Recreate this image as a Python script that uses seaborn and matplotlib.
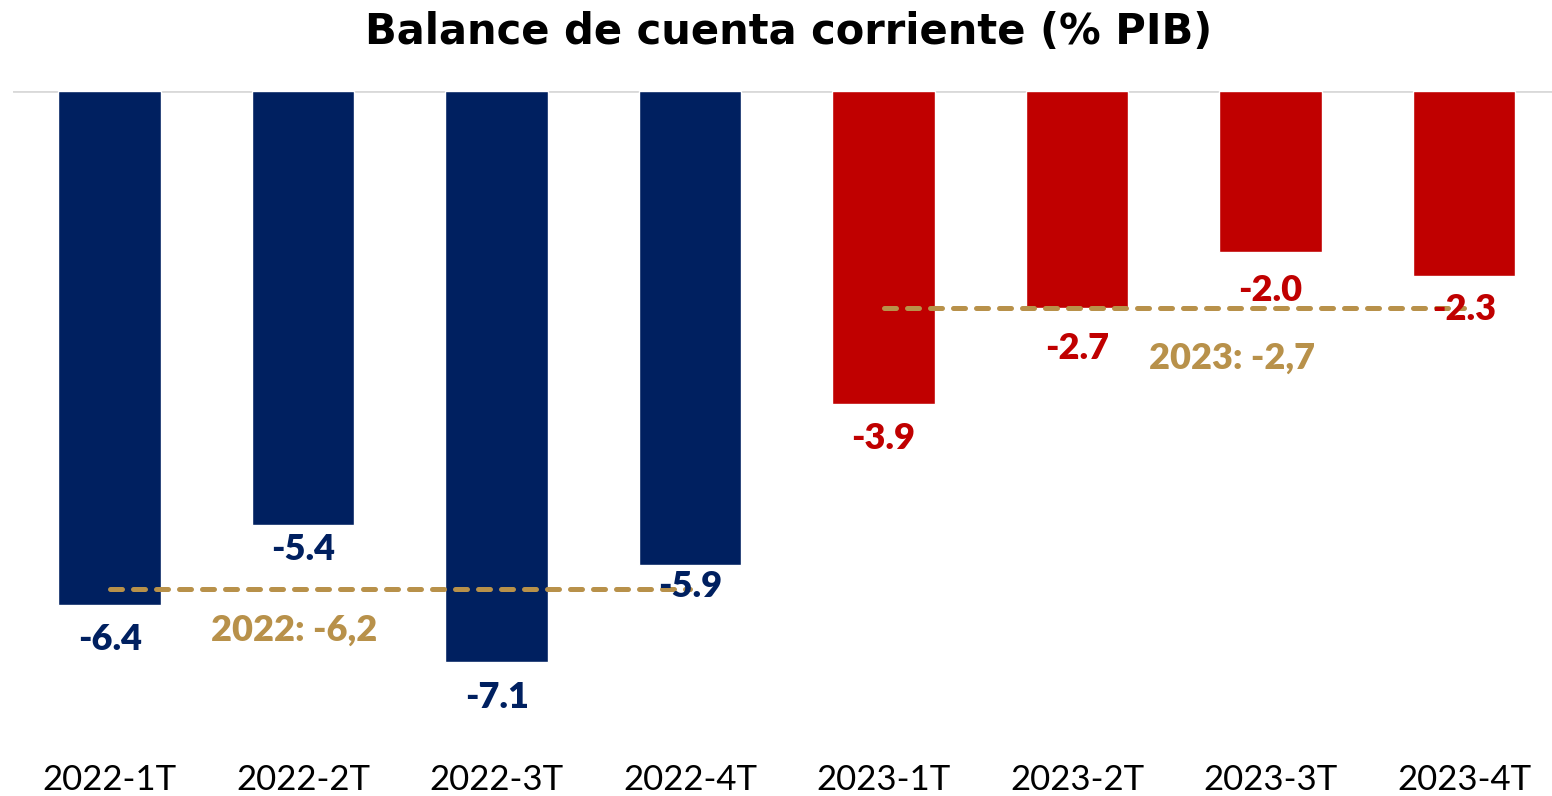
import matplotlib
matplotlib.use("Agg")
import matplotlib.pyplot as plt
import seaborn as sns
import pandas as pd

quarters = ["2022-1T", "2022-2T", "2022-3T", "2022-4T",
            "2023-1T", "2023-2T", "2023-3T", "2023-4T"]
values = [-6.4, -5.4, -7.1, -5.9, -3.9, -2.7, -2.0, -2.3]
years = ["2022"] * 4 + ["2023"] * 4
avg_years = ["2022", "2023"]
avg_values = [-6.2, -2.7]
avg_labels = ["2022: -6,2", "2023: -2,7"]

# distancia de cada etiqueta bajo la barra (como en el original)
label_gap = [0.43, 0.30, 0.45, 0.27, 0.42, 0.50, 0.48, 0.42]

navy = "#002060"
red = "#C00000"
gold = "#B8914A"
colors = {"2022": navy, "2023": red}

df = pd.DataFrame({"trimestre": quarters, "valor": values, "anio": years})

sns.set_style("white")
plt.rcParams["font.family"] = ["Lato", "DejaVu Sans"]

fig = plt.figure(figsize=(15.52, 7.96), dpi=100)
ax = fig.add_axes([0.0084, 0.078, 0.9916, 0.8077])

sns.barplot(data=df, x="trimestre", y="valor", hue="anio", palette=colors,
            width=0.53, dodge=False, legend=False, saturation=1, ax=ax)

ax.set_ylim(-8, 0)
ax.set_xlim(-0.5, 7.455)
ax.axhline(0, color="#D9D9D9", lw=2, zorder=0)

for i, (v, y) in enumerate(zip(values, years)):
    ax.text(i, v - label_gap[i], f"{v:.1f}", ha="center", va="center",
            fontsize=26, fontweight="heavy", color=colors[y], zorder=5)

# promedios anuales
for k, (yr, av, lab) in enumerate(zip(avg_years, avg_values, avg_labels)):
    x0, x1 = 4 * k, 4 * k + 3
    ax.plot([x0, x1], [av, av], color=gold, lw=3.6, ls=(0, (2.4, 2.2)),
            dash_capstyle="round", zorder=4)

ax.text(0.955, -6.71, avg_labels[0], ha="center", va="center",
        fontsize=26, fontweight="heavy", color=gold)
ax.text(5.8, -3.32, avg_labels[1], ha="center", va="center",
        fontsize=26, fontweight="heavy", color=gold)

ax.set_xlabel("")
ax.set_ylabel("")
ax.set_yticks([])
ax.tick_params(axis="x", length=0, pad=22, labelsize=25, labelcolor="black")
for s in ax.spines.values():
    s.set_visible(False)

fig.text(0.508, 0.96, "Balance de cuenta corriente (% PIB)", ha="center",
         va="center", fontsize=30, fontweight="bold", family="DejaVu Sans",
         color="black")

fig.savefig("out.png", dpi=100)
